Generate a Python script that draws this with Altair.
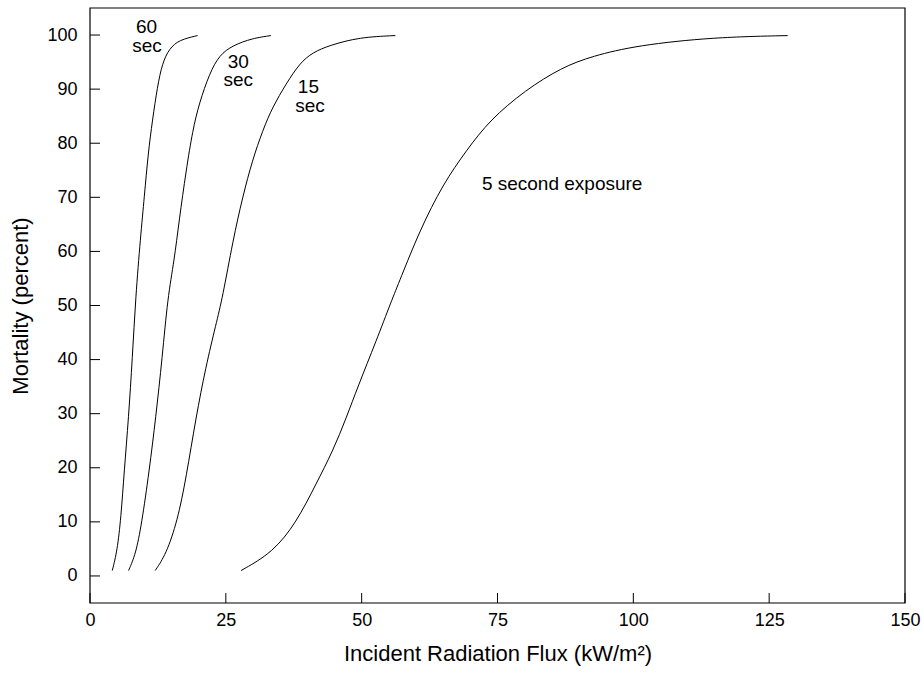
import altair as alt
import pandas as pd

# 60 second exposure
x60 = [4.1, 5.0, 5.7, 6.3, 7.1, 7.8, 8.4, 9.3, 10.0, 10.7, 11.5, 12.4, 13.3, 14.6, 16.4, 19.8]
y60 = [1.0, 4.6, 10.8, 19.4, 29.3, 40.4, 51.5, 62.7, 70.1, 78.1, 84.3, 90.4, 94.8, 97.5, 99.1, 99.9]

# 30 second exposure
x30 = [7.1, 8.4, 9.5, 10.9, 12.1, 13.3, 14.3, 15.5, 16.4, 17.7, 18.9, 20.1, 22.0, 23.8, 26.3, 29.9, 33.3]
y30 = [1.0, 4.0, 9.6, 19.4, 29.3, 40.4, 51.5, 58.3, 65.7, 75.0, 82.4, 87.4, 92.9, 96.3, 98.1, 99.4, 99.9]

# 15 second exposure
x15 = [12.0, 14.0, 16.1, 17.7, 19.5, 21.3, 23.2, 24.4, 26.3, 28.1, 29.9, 31.8, 33.6, 36.1, 38.6, 41.0, 44.1, 49.6, 56.2]
y15 = [1.0, 4.0, 10.2, 18.2, 29.3, 38.6, 46.6, 51.5, 62.0, 70.1, 76.9, 82.4, 86.7, 91.0, 94.8, 96.8, 98.1, 99.6, 99.9]

# 5 second exposure
x5 = [27.8, 33.6, 38.0, 41.6, 44.7, 47.2, 49.3, 52.7, 55.5, 57.0, 60.7, 65.0, 69.3, 73.6, 80.1, 86.8, 92.4, 100.7, 114.8, 128.4]
y5 = [1.0, 4.3, 9.9, 17.0, 23.1, 29.3, 35.0, 43.5, 50.9, 54.6, 63.9, 72.5, 78.7, 84.3, 89.8, 94.0, 96.1, 98.1, 99.6, 99.9]

# annotation labels
label_text = ["60", "sec", "30", "sec", "15", "sec", "5 second exposure"]
label_x = [10.4, 10.5, 27.3, 27.3, 40.2, 40.5, 86.9]
label_y = [101.5, 98.0, 95.1, 91.6, 90.4, 86.9, 72.4]

x_ticks = [0, 25, 50, 75, 100, 125, 150]
y_ticks = [0, 10, 20, 30, 40, 50, 60, 70, 80, 90, 100]

rows = []
for name, xs, ys in [("60", x60, y60), ("30", x30, y30), ("15", x15, y15), ("5", x5, y5)]:
    for i, (a, b) in enumerate(zip(xs, ys)):
        rows.append({"series": name, "flux": a, "mortality": b, "order": i})
df = pd.DataFrame(rows)
labels = pd.DataFrame({"text": label_text, "flux": label_x, "mortality": label_y})
xt = pd.DataFrame({"flux": x_ticks})
yt = pd.DataFrame({"mortality": y_ticks})
frame_df = pd.DataFrame({"flux": [0.0], "flux2": [150.0], "mortality": [-5.0], "mortality2": [105.0]})

W, H = 815, 595
FONT = "Liberation Sans"
xscale = alt.Scale(domain=[0, 150], nice=False, zero=False)
yscale = alt.Scale(domain=[-5, 105], nice=False, zero=False)

xaxis = alt.Axis(values=x_ticks, title="Incident Radiation Flux (kW/m²)", ticks=False, domain=False,
                 grid=False, labelPadding=8, labelFontSize=18, labelFont=FONT, labelColor="black",
                 titleFont=FONT, titleFontSize=22, titleFontWeight="normal", titleColor="black",
                 titlePadding=14, labelFlush=False)
yaxis = alt.Axis(values=y_ticks, title="Mortality (percent)", ticks=False, domain=False,
                 grid=False, labelPadding=13, labelFontSize=18, labelFont=FONT, labelColor="black",
                 titleFont=FONT, titleFontSize=22, titleFontWeight="normal", titleColor="black",
                 titlePadding=14)

# plot frame drawn from the scale domain
frame = alt.Chart(frame_df).mark_rect(fill="white", fillOpacity=0, stroke="black", strokeWidth=1.2).encode(
    x=alt.X("flux:Q", scale=xscale, axis=xaxis),
    x2="flux2:Q",
    y=alt.Y("mortality:Q", scale=yscale, axis=yaxis),
    y2="mortality2:Q",
)

lines = alt.Chart(df).mark_line(color="black", strokeWidth=1, interpolate="basis").encode(
    x=alt.X("flux:Q", scale=xscale),
    y=alt.Y("mortality:Q", scale=yscale),
    detail="series:N",
    order="order:Q",
)

xtick_rules = alt.Chart(xt).mark_rule(color="black", strokeWidth=1).encode(
    x=alt.X("flux:Q", scale=xscale),
    y=alt.value(H),
    y2=alt.value(H - 10),
)
ytick_rules = alt.Chart(yt).mark_rule(color="black", strokeWidth=1).encode(
    y=alt.Y("mortality:Q", scale=yscale),
    x=alt.value(0),
    x2=alt.value(10),
)

text = alt.Chart(labels).mark_text(font=FONT, fontSize=19, color="black", align="center",
                                    baseline="middle").encode(
    x=alt.X("flux:Q", scale=xscale),
    y=alt.Y("mortality:Q", scale=yscale),
    text="text:N",
)

chart = alt.layer(frame, lines, xtick_rules, ytick_rules, text).properties(
    width=W,
    height=H,
    background="white",
    autosize=alt.AutoSizeParams(type="none"),
    padding={"left": 90, "top": 8, "right": 18, "bottom": 72},
).configure_view(stroke=None)

chart.save("out.html", embed_options={"renderer": "svg", "actions": False})
